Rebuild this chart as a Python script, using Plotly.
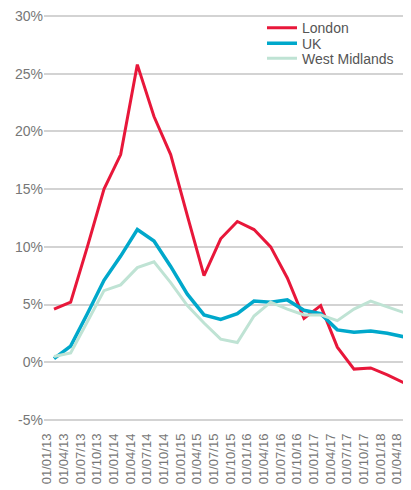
import plotly.graph_objects as go

dates = ["01/01/13", "01/04/13", "01/07/13", "01/10/13", "01/01/14", "01/04/14",
         "01/07/14", "01/10/14", "01/01/15", "01/04/15", "01/07/15", "01/10/15",
         "01/01/16", "01/04/16", "01/07/16", "01/10/16", "01/01/17", "01/04/17",
         "01/07/17", "01/10/17", "01/01/18", "01/04/18"]

london = [4.6, 5.2, 10.0, 15.0, 18.0, 25.8, 21.3, 18.0, 12.7, 7.5, 10.7, 12.2,
          11.5, 10.0, 7.3, 3.8, 4.9, 1.3, -0.6, -0.5, -1.1, -1.8]
uk = [0.3, 1.4, 4.2, 7.1, 9.2, 11.5, 10.5, 8.3, 5.9, 4.1, 3.7, 4.2,
      5.3, 5.2, 5.4, 4.5, 4.2, 2.8, 2.6, 2.7, 2.5, 2.2]
west_midlands = [0.5, 0.8, 3.5, 6.2, 6.7, 8.2, 8.7, 6.9, 4.9, 3.4, 2.0, 1.7,
                 4.0, 5.2, 4.6, 4.1, 4.1, 3.6, 4.6, 5.3, 4.8, 4.3]

y_ticks = [-5, 0, 5, 10, 15, 20, 25, 30]
y_labels = ["-5%", "0%", "5%", "10%", "15%", "20%", "25%", "30%"]

idx = list(range(len(dates)))

fig = go.Figure()
fig.add_trace(go.Scatter(x=idx, y=london, name="London", mode="lines", legend="legend",
                         line=dict(color="#E8173A", width=3)))
fig.add_trace(go.Scatter(x=idx, y=uk, name="UK", mode="lines", legend="legend2",
                         line=dict(color="#00A8CB", width=3.5)))
fig.add_trace(go.Scatter(x=idx, y=west_midlands, name="West Midlands", mode="lines",
                         legend="legend3", line=dict(color="#BFE3D4", width=3)))

leg_common = dict(x=0.594, xanchor="left", yanchor="top", bgcolor="rgba(0,0,0,0)",
                  font=dict(size=14, color="#555555"), itemwidth=30)

fig.update_layout(
    width=403, height=482,
    margin=dict(l=36, r=0, t=7, b=69),
    paper_bgcolor="white", plot_bgcolor="white",
    font=dict(family="Liberation Sans, Arial, sans-serif", color="#666666", size=13),
    showlegend=True,
    legend=dict(y=1.007, **leg_common),
    legend2=dict(y=0.969, **leg_common),
    legend3=dict(y=0.932, **leg_common),
    xaxis=dict(range=[-0.6, 21.42], tickvals=[i - 0.42 for i in idx], ticktext=dates,
               tickangle=-90, showgrid=False, zeroline=False, showline=False,
               ticks="", automargin=False, ticklabelstandoff=9,
               tickfont=dict(size=13, color="#777777")),
    yaxis=dict(range=[-5.1, 30.1], tickvals=y_ticks, ticktext=y_labels,
               showgrid=True, gridcolor="#D3D3D3", gridwidth=1.5,
               zeroline=False, showline=False, ticks="", automargin=False,
               tickfont=dict(size=14, color="#777777")),
)

fig.write_html("out.html")
